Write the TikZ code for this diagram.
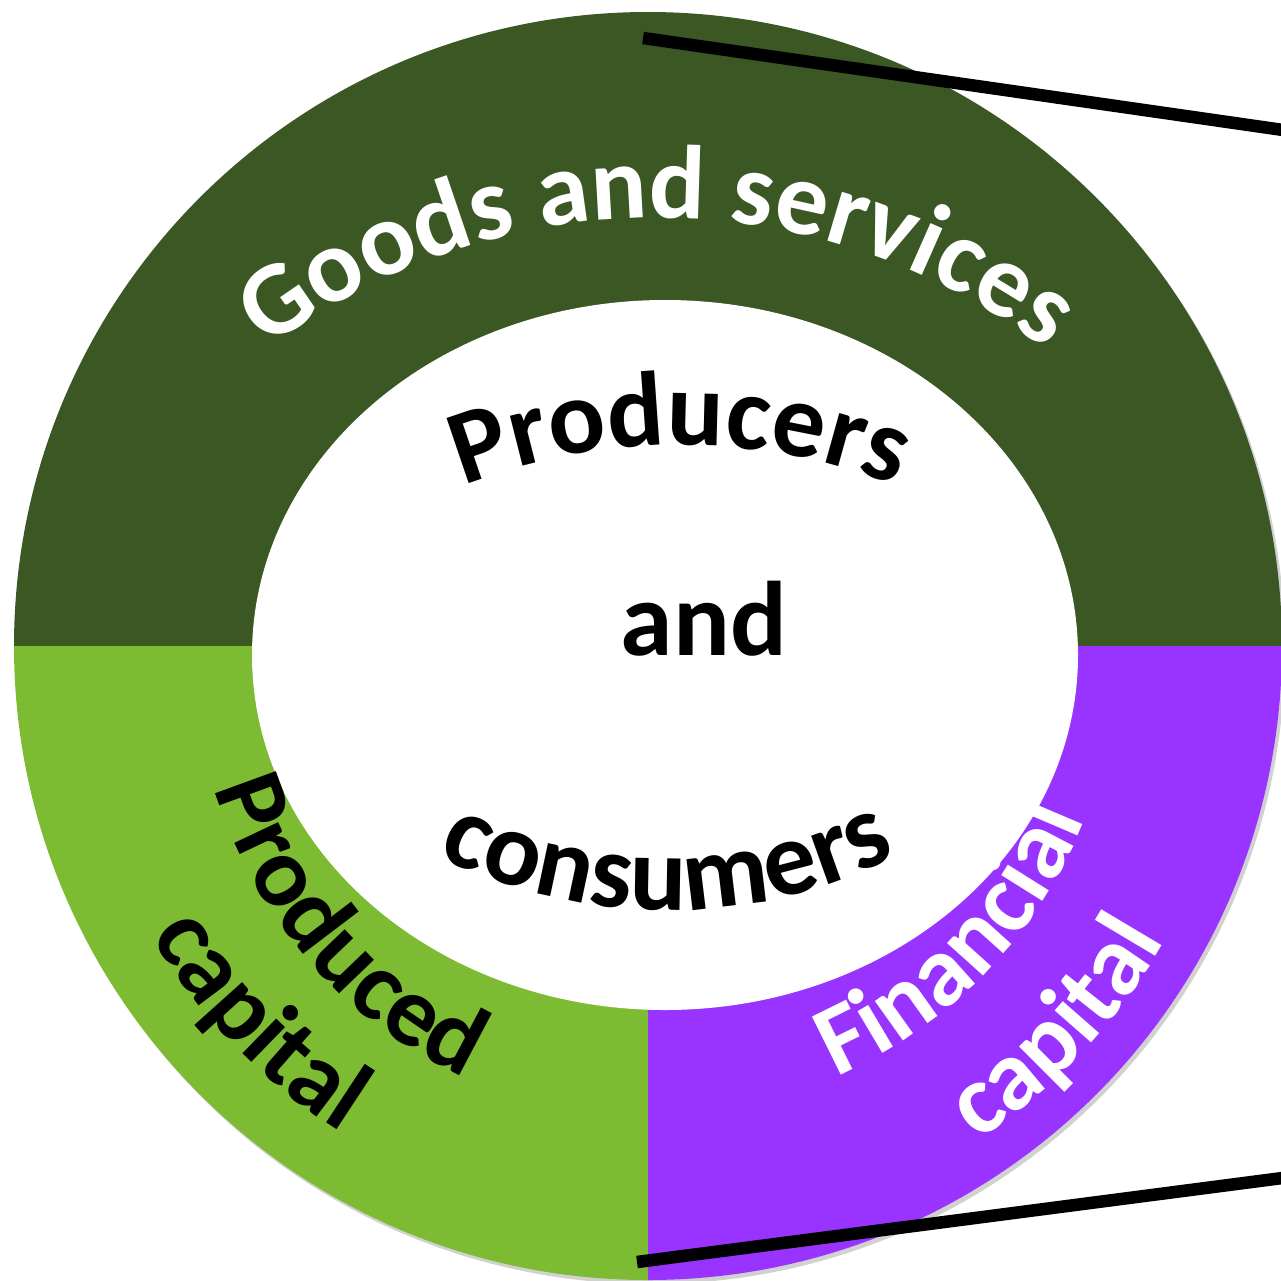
\documentclass[tikz,border=0pt]{standalone}
\usepackage{fontspec}
\setmainfont{Carlito}
\usetikzlibrary{decorations.text}
\definecolor{goodsgreen}{RGB}{58,87,36}
\definecolor{prodgreen}{RGB}{124,187,50}
\definecolor{finpurple}{RGB}{153,51,255}
\newcommand{\ringfont}{\fontsize{100}{110}\selectfont\bfseries}
\newcommand{\topfont}{\fontsize{105}{115}\selectfont\bfseries}
\newcommand{\corefont}{\fontsize{106}{116}\selectfont\bfseries}

\begin{document}
\begin{tikzpicture}[x=1pt,y=-1pt,
    arctext/.style 2 args={decorate,decoration={text along path,text align=center,text color=#1,text={#2}}},
    zoomline/.style={line width=12.5pt}]
    \useasboundingbox (0,0) rectangle (1281,1280);
    \coordinate (ctr) at (648,646);
    \fill[black!18] (651,650) circle (634);
    \fill[goodsgreen] (ctr) ++(180:634) arc[start angle=180,end angle=360,radius=634] -- cycle;
    \fill[prodgreen] (ctr) -- ++(90:634) arc[start angle=90,end angle=180,radius=634] -- cycle;
    \fill[finpurple] (ctr) -- ++(0:634) arc[start angle=0,end angle=90,radius=634] -- cycle;
    \fill[white] (665,655) ellipse[x radius=413,y radius=355];
    \path[arctext={white}{|\topfont|Goods and services}] (657,858) ++(-135:640) arc[start angle=-135,end angle=-45,radius=640];
    \path[arctext={black}{|\corefont|Producers}] (680,1034) ++(-115:589) arc[start angle=-115,end angle=-65,radius=589];
    \node[font=\corefont,anchor=base] (andword) at (704,655) {and};
    \path[arctext={black}{|\corefont|consumers}] (667,392) ++(120:518) arc[start angle=120,end angle=60,radius=518];
    \path[arctext={black}{|\ringfont|Produced}] (ctr) ++(168:455 and 472) arc[start angle=168,end angle=108,x radius=455,y radius=472];
    \path[arctext={black}{|\ringfont|capital}] (ctr) ++(156:575) arc[start angle=156,end angle=116,radius=575];
    \path[arctext={white}{|\ringfont|Financial}] (ctr) ++(74:470) arc[start angle=74,end angle=14,radius=470];
    \path[arctext={white}{|\ringfont|capital}] (ctr) ++(63:595) arc[start angle=63,end angle=23,radius=595];
    \coordinate (uptip) at (643,38);
    \coordinate (upend) at (1290,131);
    \coordinate (lowtip) at (637,1262);
    \coordinate (lowend) at (1290,1177);
    \draw[zoomline] (uptip) -- (upend);
    \draw[zoomline] (lowtip) -- (lowend);
\end{tikzpicture}
\end{document}
